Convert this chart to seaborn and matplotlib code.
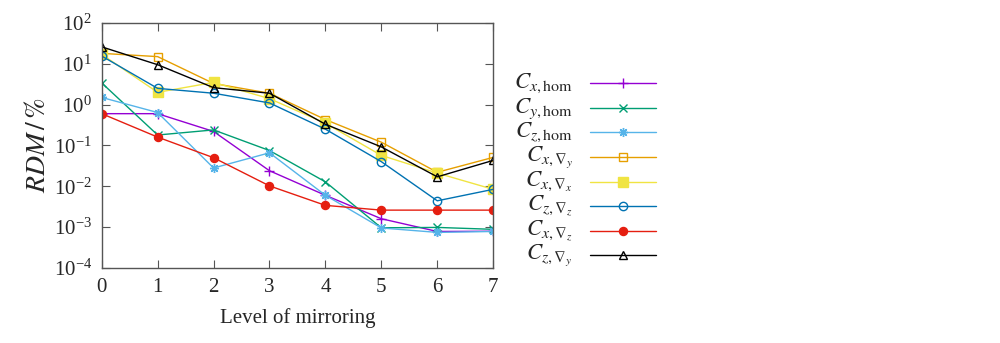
import numpy as np
import pandas as pd
import matplotlib
matplotlib.use("Agg")
import matplotlib.pyplot as plt
import seaborn as sns
from matplotlib.lines import Line2D

levels = [0, 1, 2, 3, 4, 5, 6, 7]
c_x_hom = [0.6, 0.6, 0.22, 0.024, 0.006, 0.0016, 0.00078, 0.00079]
c_y_hom = [3.4, 0.18, 0.24, 0.075, 0.0128, 0.00096, 0.00098, 0.00088]
c_z_hom = [1.5, 0.64, 0.028, 0.066, 0.006, 0.00095, 0.00074, 0.00078]
c_x_dy = [18.0, 15.0, 3.3, 1.9, 0.43, 0.12, 0.022, 0.051]
c_x_dx = [17.0, 2.0, 3.5, 1.4, 0.35, 0.057, 0.021, 0.0084]
c_z_dz = [15.5, 2.5, 1.9, 1.1, 0.25, 0.04, 0.0044, 0.0084]
c_x_dz = [0.6, 0.16, 0.05, 0.0102, 0.0034, 0.0026, 0.0026, 0.0026]
c_z_dy = [26.0, 9.5, 2.6, 1.9, 0.33, 0.092, 0.017, 0.043]

labels = [r"$C_{x,\mathrm{hom}}$", r"$C_{y,\mathrm{hom}}$", r"$C_{z,\mathrm{hom}}$",
          r"$C_{x,\nabla_y}$", r"$C_{x,\nabla_x}$", r"$C_{z,\nabla_z}$",
          r"$C_{x,\nabla_z}$", r"$C_{z,\nabla_y}$"]
series = [c_x_hom, c_y_hom, c_z_hom, c_x_dy, c_x_dx, c_z_dz, c_x_dz, c_z_dy]
colors = ["#9400d3", "#009e73", "#56b4e9", "#e69f00", "#f0e442", "#0072b2", "#e51e10", "#000000"]
markers = ["+", "x", (8, 2, 0), "s", "s", "o", "o", "^"]
filled = [True, True, True, False, True, False, True, False]
msizes = [6.5, 5.5, 6.5, 5.8, 6.5, 6.0, 5.8, 5.2]

sns.set_style("ticks")
plt.rcParams["font.family"] = ["Liberation Serif", "DejaVu Serif"]
plt.rcParams["mathtext.fontset"] = "stix"

fig = plt.figure(figsize=(10, 3.43), dpi=100)
ax = fig.add_axes([0.1017, 0.219, 0.3915, 0.714])

for lab, vals, col, mk, fl, ms in zip(labels, series, colors, markers, filled, msizes):
    df = pd.DataFrame({"level": levels, "rdm": vals})
    kw = dict(marker=mk, markersize=ms, markeredgewidth=1.0, linewidth=1.0, color=col)
    kw["markerfacecolor"] = col if fl else "none"
    kw["markeredgecolor"] = col
    sns.lineplot(data=df, x="level", y="rdm", ax=ax, **kw)

ax.set_yscale("log")
ax.set_xlim(0, 7)
ax.set_ylim(1e-4, 1e2)
ax.set_xticks(levels)
ax.set_yticks([1e-4, 1e-3, 1e-2, 1e-1, 1e0, 1e1, 1e2])
ax.tick_params(which="both", direction="in", top=True, right=True, labelsize=15, color="#555555")
ax.tick_params(which="major", length=6, width=0.8, pad=7)
ax.tick_params(which="minor", length=3, width=0.6)
ax.tick_params(axis="x", which="minor", bottom=False, top=False)
for sp in ax.spines.values():
    sp.set_color("#555555")
    sp.set_linewidth(1.0)
ax.set_xlabel("Level of mirroring", fontsize=15, labelpad=8)
ax.set_ylabel(r"$RDM\,/\,\%$", fontsize=20, labelpad=2)

# legend drawn at the right
ys = [83.3, 108.3, 132, 156.7, 181.5, 206, 230.5, 255]
for lab, col, mk, fl, ms, y in zip(labels, colors, markers, filled, msizes, ys):
    fy = 1 - y / 343
    fig.text(0.573, fy, lab, ha="right", va="center", fontsize=16.5)
    ln = Line2D([0.590, 0.656], [fy, fy], transform=fig.transFigure, color=col, linewidth=1.0)
    fig.add_artist(ln)
    mkln = Line2D([0.623], [fy], transform=fig.transFigure, linestyle="none", marker=mk,
                  markersize=ms, markeredgewidth=1.0, markeredgecolor=col,
                  markerfacecolor=(col if fl else "none"))
    fig.add_artist(mkln)

fig.savefig("out.png", dpi=100)
